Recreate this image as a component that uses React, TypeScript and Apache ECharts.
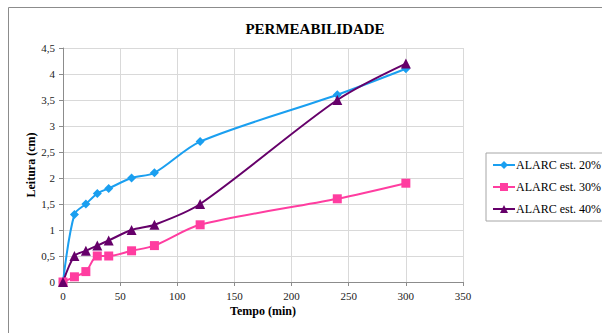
import React, { useEffect, useRef } from "react";
import * as echarts from "echarts";

const times = [0, 10, 20, 30, 40, 60, 80, 120, 240, 300];
const est20 = [0, 1.3, 1.5, 1.7, 1.8, 2.0, 2.1, 2.7, 3.6, 4.1];
const est30 = [0, 0.1, 0.2, 0.5, 0.5, 0.6, 0.7, 1.1, 1.6, 1.9];
const est40 = [0, 0.5, 0.6, 0.7, 0.8, 1.0, 1.1, 1.5, 3.5, 4.2];
const seriesNames = ["ALARC est. 20%", "ALARC est. 30%", "ALARC est. 40%"];
const titleText = "PERMEABILIDADE";
const xName = "Tempo (min)";
const yName = "Leitura (cm)";

const FONT = "Liberation Serif";

export default function App() {
  const ref = useRef<HTMLDivElement>(null);
  useEffect(() => {
    document.body.style.margin = "0";
    const chart = echarts.init(ref.current!, null, { renderer: "svg" });
    const pair = (ys: number[]) => times.map((t, i) => [t, ys[i]]);
    const mk = (name: string, ys: number[], color: string, symbol: string, size: number) => ({
      name,
      type: "line",
      data: pair(ys),
      smooth: 0.3,
      symbol,
      symbolSize: size,
      showAllSymbol: true,
      lineStyle: { color, width: 2 },
      itemStyle: { color },
    });
    chart.setOption({
      animation: false,
      textStyle: { fontFamily: FONT },
      title: {
        text: titleText,
        left: 310,
        top: 16,
        textAlign: "center",
        textStyle: { fontFamily: FONT, fontSize: 15, fontWeight: "bold", color: "#000" },
      },
      graphic: [
        {
          type: "rect",
          shape: { x: 8.5, y: 7.5, width: 620, height: 340 },
          style: { fill: "none", stroke: "#8c8c8c", lineWidth: 1 },
          silent: true,
        },
        {
          type: "text",
          x: 31,
          y: 165,
          rotation: Math.PI / 2,
          style: {
            text: yName,
            fontFamily: FONT,
            fontSize: 12,
            fontWeight: "bold",
            fill: "#000",
            align: "center",
            verticalAlign: "middle",
          },
        },
        {
          type: "text",
          x: 263,
          y: 311,
          style: {
            text: xName,
            fontFamily: FONT,
            fontSize: 12,
            fontWeight: "bold",
            fill: "#000",
            align: "center",
            verticalAlign: "middle",
          },
        },
      ],
      legend: {
        orient: "vertical",
        left: 486,
        top: 153,
        padding: [6, 20, 6, 6],
        itemGap: 10,
        itemWidth: 22,
        itemHeight: 10,
        borderColor: "#a6a6a6",
        borderWidth: 1,
        textStyle: { fontFamily: FONT, fontSize: 12, color: "#000", padding: [0, 0, 0, -4] },
        data: seriesNames,
      },
      grid: { left: 63, right: 139, top: 48, bottom: 51, containLabel: false, outerBoundsMode: "none" },
      xAxis: {
        type: "value",
        min: 0,
        max: 350,
        interval: 50,
        axisLine: { lineStyle: { color: "#8c8c8c" } },
        axisTick: { show: true, length: 4, lineStyle: { color: "#8c8c8c" } },
        splitLine: { show: true, lineStyle: { color: "#d9d9d9" } },
        axisLabel: { fontFamily: FONT, fontSize: 11, color: "#222", margin: 8 },
      },
      yAxis: {
        type: "value",
        min: 0,
        max: 4.5,
        interval: 0.5,
        axisLine: { show: true, lineStyle: { color: "#8c8c8c" } },
        axisTick: { show: true, length: 4, lineStyle: { color: "#8c8c8c" } },
        splitLine: { show: true, lineStyle: { color: "#d9d9d9" } },
        axisLabel: {
          fontFamily: FONT,
          fontSize: 11,
          color: "#222",
          margin: 8,
          formatter: (v: number) => String(v).replace(".", ","),
        },
      },
      series: [
        mk(seriesNames[0], est20, "#1a9ff0", "diamond", 9),
        mk(seriesNames[1], est30, "#ff3da0", "rect", 9),
        mk(seriesNames[2], est40, "#66006a", "triangle", 10),
      ],
    });
    return () => chart.dispose();
  }, []);
  return <div ref={ref} style={{ width: 602, height: 333 }} />;
}
